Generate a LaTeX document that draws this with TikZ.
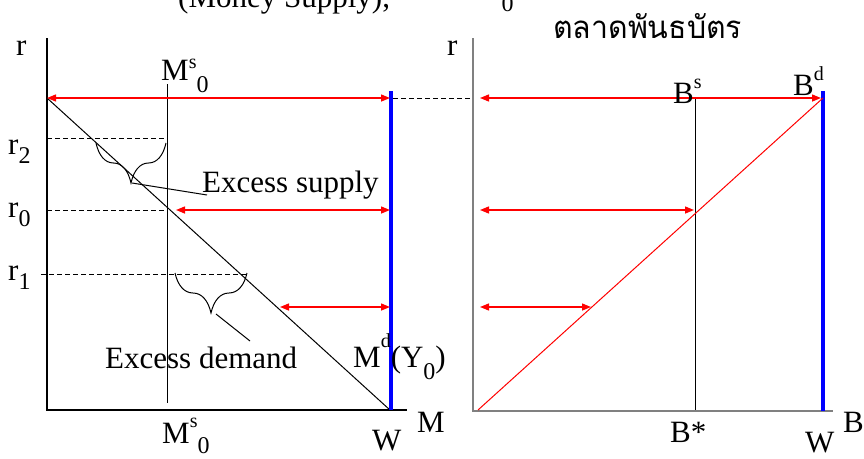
\documentclass[tikz,border=0pt]{standalone}
\usepackage{fontspec}
\setmainfont{Liberation Serif}
\newfontfamily\thaifont[Script=Thai]{Loma}
\usetikzlibrary{arrows.meta,decorations.pathreplacing}
\newcommand\upx[2]{\raisebox{#1pt}{\fontsize{20}{20}\selectfont #2}}
\newcommand\dnx[2]{\raisebox{-#1pt}{\fontsize{24}{24}\selectfont #2}}
\begin{document}
\begin{tikzpicture}[x=1pt,y=-1pt,
  lbl/.style={anchor=base west,inner sep=0pt,font=\fontsize{31}{36}\selectfont},
  axisL/.style={line width=1.3pt,black},
  axisR/.style={line width=2pt,black!50},
  guide/.style={dash pattern=on 5pt off 3pt,line width=0.9pt},
  redarr/.style={red,line width=1.4pt,{Triangle[length=9pt,width=7pt]}-{Triangle[length=9pt,width=7pt]}},
  wall/.style={blue,line width=4pt},
  thinline/.style={line width=1pt},
  bracestyle/.style={line width=1pt,decorate,decoration={brace,amplitude=40pt,mirror}}]
\useasboundingbox (0,0) rectangle (864,458);

% coordinates
\coordinate (Ltop) at (47,38);  \coordinate (Lo) at (47,410);  \coordinate (Lx) at (407,410);
\coordinate (Rtop) at (473,38); \coordinate (Ro) at (473,411); \coordinate (Rx) at (833,411);
\coordinate (MsT) at (167,84);  \coordinate (MsB) at (167,403);
\coordinate (A) at (47,98);     \coordinate (Aend) at (390,98);
\coordinate (WLt) at (391,91);  \coordinate (WLb) at (391,410);
\coordinate (DLend) at (390,410);
\coordinate (R2a) at (47,138);  \coordinate (R2b) at (167,138);
\coordinate (R0a) at (47,210);  \coordinate (R0b) at (167,210);
\coordinate (R1a) at (41,274);  \coordinate (R1b) at (247,274);
\coordinate (E0a) at (176,210); \coordinate (E0b) at (390,210);
\coordinate (E1a) at (280,307); \coordinate (E1b) at (390,307);
\coordinate (Da) at (393,98);   \coordinate (Db) at (473,98);
\coordinate (BA) at (480,98);   \coordinate (BB) at (821,98);
\coordinate (BC) at (480,210);  \coordinate (BD) at (694,210);
\coordinate (BE) at (480,307);  \coordinate (BF) at (591,307);
\coordinate (BsT) at (695,98);  \coordinate (BsB) at (695,411);
\coordinate (WRt) at (823,91);  \coordinate (WRb) at (823,411);
\coordinate (SLa) at (478,410); \coordinate (SLb) at (823,98);
\coordinate (Br1a) at (96,143); \coordinate (Br1b) at (166,143);
\coordinate (Br2a) at (175,273);\coordinate (Br2b) at (247,273);
\coordinate (P1a) at (132,183); \coordinate (P1b) at (207,195);
\coordinate (P2a) at (216,314); \coordinate (P2b) at (250,341);

% left panel
\draw[guide] (R2a) -- (R2b);
\draw[guide] (R0a) -- (R0b);
\draw[guide] (R1a) -- (R1b);
\draw[guide] (Da) -- (Db);
\draw[thinline] (MsT) -- (MsB);
\draw[thinline] (A) -- (DLend);
\draw[axisL] (Ltop) -- (Lo) -- (Lx);
\draw[wall] (WLt) -- (WLb);
\draw[redarr] (A) -- (Aend);
\draw[redarr] (E0a) -- (E0b);
\draw[redarr] (E1a) -- (E1b);
\draw[bracestyle] (Br1a) -- (Br1b);
\draw[bracestyle] (Br2a) -- (Br2b);
\draw[thinline] (P1a) -- (P1b);
\draw[thinline] (P2a) -- (P2b);

% right panel
\draw[thinline] (BsT) -- (BsB);
\draw[axisR] (Rtop) -- (Ro) -- (Rx);
\draw[wall] (WRt) -- (WRb);
\draw[red,line width=1pt] (SLa) -- (SLb);
\draw[redarr] (BA) -- (BB);
\draw[redarr] (BC) -- (BD);
\draw[redarr] (BE) -- (BF);

% labels
\node[lbl] (top1) at (178,7) {(Money Supply),};
\node[lbl] (top2) at (466,-1) {M\upx{12}{s}\dnx{12}{0}};
\node[lbl] (thai) at (553,38) {\resizebox{189pt}{25pt}{\thaifont ตลาดพันธบัตร}};
\node[lbl] (rL) at (16,55) {r};
\node[lbl] (rR) at (447,55) {r};
\node[lbl] (msT) at (161,80) {M\upx{12}{s}\dnx{12}{0}};
\node[lbl] (r2) at (8,154) {r\dnx{9}{2}};
\node[lbl] (r0) at (8,217) {r\dnx{9}{0}};
\node[lbl] (r1) at (8,280) {r\dnx{9}{1}};
\node[lbl] (es) at (202,192) {Excess supply};
\node[lbl] (ed) at (105,368) {Excess demand};
\node[lbl] (md) at (353,367) {M\upx{20}{d}(Y\dnx{12}{0})};
\node[lbl] (msB) at (162,443) {M\upx{16}{s}\dnx{10}{0}};
\node[lbl] (wL) at (372,450) {W};
\node[lbl] (mAx) at (417,432) {M};
\node[lbl] (bs) at (673,103) {B\upx{15}{s}};
\node[lbl] (bd) at (793,95) {B\upx{15}{d}};
\node[lbl] (bstar) at (670,442) {B*};
\node[lbl] (wR) at (805,452) {W};
\node[lbl] (bAx) at (843,432) {B};
\end{tikzpicture}
\end{document}
